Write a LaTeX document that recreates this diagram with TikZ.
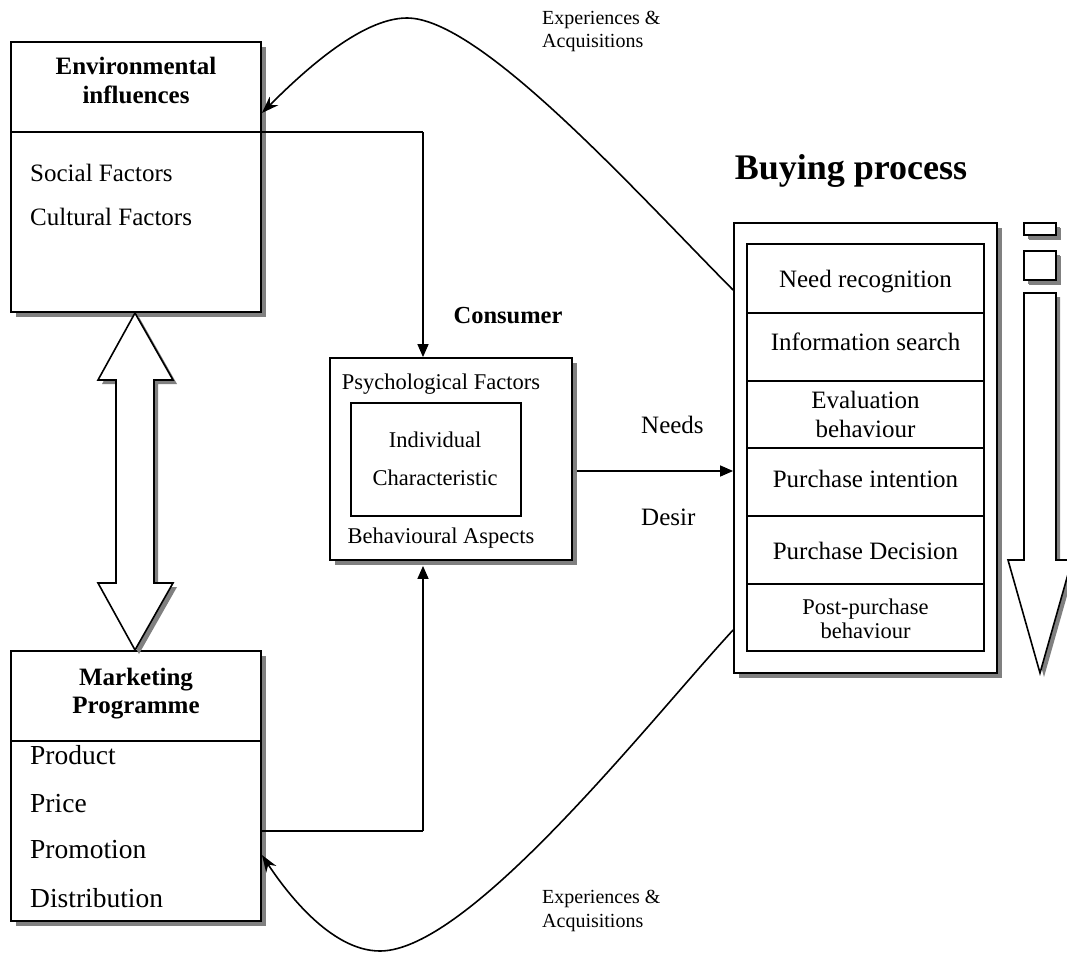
\documentclass[tikz,border=0pt]{standalone}
\usepackage{fontspec}
\setmainfont{Liberation Serif}
\usetikzlibrary{arrows.meta,shadows,calc}

\begin{document}
\begin{tikzpicture}[x=1pt,y=-1pt,
  panel/.style={draw, line width=1.8pt, fill=white, inner sep=0pt,
    drop shadow={shadow xshift=5pt, shadow yshift=-5pt, fill=black!50, opacity=1}},
  plainbox/.style={draw, line width=1.8pt, fill=white, inner sep=0pt},
  rowbox/.style={plainbox, minimum width=237pt},
  conn/.style={line width=1.4pt, -{Triangle[length=13pt,width=11pt]}},
  curvearrow/.style={line width=1.6pt, -{Stealth[length=17pt,width=12pt]}},
  label/.style={inner sep=0pt, anchor=base, font=\fontsize{25}{30}\selectfont},
  labelw/.style={label, anchor=base west},
  small/.style={font=\fontsize{22.5}{27}\selectfont},
  tiny/.style={font=\fontsize{20}{24}\selectfont},
  big/.style={font=\fontsize{27.5}{33}\selectfont},
  heading/.style={label, font=\bfseries\fontsize{25}{30}\selectfont},
  hollow/.style={draw, line width=1.6pt, fill=white, line join=miter},
  hollowshadow/.style={fill=black!50}
]
\fill[white] (0,0) rectangle (1067,955);
\useasboundingbox (0,0) rectangle (1067,955);

% ---- left column: environment and marketing panels
\node[panel, minimum width=250pt, minimum height=270pt] (env) at (136,177) {};
\draw[line width=1.8pt] (env.west |- 0,132) -- (env.east |- 0,132);
\node[heading] (envt1) at (136,75) {Environmental};
\node[heading] (envt2) at (136,103) {influences};
\node[labelw] (soc) at (30,181) {Social Factors};
\node[labelw] (cul) at (30,225) {Cultural Factors};

\node[panel, minimum width=250pt, minimum height=270pt] (mkt) at (136,786) {};
\draw[line width=1.8pt] (mkt.west |- 0,741) -- (mkt.east |- 0,741);
\node[heading] (mkt1) at (136,685) {Marketing};
\node[heading] (mkt2) at (136,713) {Programme};
\node[labelw, big] (p1) at (30,764) {Product};
\node[labelw, big] (p2) at (30,812) {Price};
\node[labelw, big] (p3) at (30,858) {Promotion};
\node[labelw, big] (p4) at (30,907) {Distribution};

% ---- two-headed block arrow between the panels
\fill[hollowshadow, shift={(4,4)}] (135,313) -- (173,380) -- (154,380) -- (154,583) -- (173,583)
  -- (135,650) -- (98,583) -- (116,583) -- (116,380) -- (98,380) -- cycle;
\draw[hollow] (135,313) -- (173,380) -- (154,380) -- (154,583) -- (173,583)
  -- (135,650) -- (98,583) -- (116,583) -- (116,380) -- (98,380) -- cycle;

% ---- consumer panel
\node[heading, font=\bfseries\fontsize{24.5}{29}\selectfont] (cons) at (508,323) {Consumer};
\node[panel, minimum width=242pt, minimum height=202pt] (consumer) at (451,459) {};
\node[plainbox, minimum width=170pt, minimum height=113pt] (indiv) at (436,459.5) {};
\node[label, small] (psy) at (441,389) {Psychological Factors};
\node[label, small] (ind1) at (435,447) {Individual};
\node[label, small] (ind2) at (435,485) {Characteristic};
\node[label, small] (beh) at (441,543) {Behavioural Aspects};

% ---- buying process
\node[label, font=\bfseries\fontsize{36}{43}\selectfont] (buyt) at (851,179) {Buying process};
\node[panel, minimum width=263pt, minimum height=450pt] (buy) at (865.5,448) {};
\node[rowbox, minimum height=69pt] (r1) at (865.5,278.5) {};
\node[rowbox, minimum height=68pt] (r2) at (865.5,347) {};
\node[rowbox, minimum height=67pt] (r3) at (865.5,414.5) {};
\node[rowbox, minimum height=68pt] (r4) at (865.5,482) {};
\node[rowbox, minimum height=68pt] (r5) at (865.5,550) {};
\node[rowbox, minimum height=67pt] (r6) at (865.5,617.5) {};
\node[label] (s1) at (865.5,287) {Need recognition};
\node[label] (s2) at (865.5,350) {Information search};
\node[label] (s3a) at (865.5,408) {Evaluation};
\node[label] (s3b) at (865.5,437) {behaviour};
\node[label] (s4) at (865.5,487) {Purchase intention};
\node[label] (s5) at (865.5,559) {Purchase Decision};
\node[label, small] (s6a) at (865.5,614) {Post-purchase};
\node[label, small] (s6b) at (865.5,638) {behaviour};

% ---- small blocks and the downward block arrow
\node[panel, minimum width=32pt, minimum height=12pt,
  drop shadow={shadow xshift=4pt, shadow yshift=-4pt, fill=black!50, opacity=1}] (b1) at (1040,229) {};
\node[panel, minimum width=32pt, minimum height=29pt,
  drop shadow={shadow xshift=4pt, shadow yshift=-4pt, fill=black!50, opacity=1}] (b2) at (1040,265.5) {};
\fill[hollowshadow, shift={(4,4)}] (1024,293) -- (1056,293) -- (1056,560) -- (1072,560)
  -- (1040,673) -- (1008,560) -- (1024,560) -- cycle;
\draw[hollow] (1024,293) -- (1056,293) -- (1056,560) -- (1072,560)
  -- (1040,673) -- (1008,560) -- (1024,560) -- cycle;

% ---- connectors
\coordinate (k1) at (423,132);
\coordinate (k2) at (423,831);
\coordinate (k3) at (0,471);
\draw[line width=1.4pt] (env.east |- k1) -- (k1);
\draw[conn] (k1) -- (k1 |- consumer.north);
\draw[line width=1.4pt] (mkt.east |- k2) -- (k2);
\draw[conn] (k2) -- ($(k2 |- consumer.south)+(0,5)$);
\draw[conn] ($(consumer.east |- k3)+(4,0)$) -- (buy.west |- k3);
\node[labelw] (needs) at (641,433) {Needs};
\node[labelw] (desir) at (641,525) {Desir};

% ---- feedback curves
\coordinate (top) at (407,18);
\coordinate (bot) at (380,951);
\draw[line width=1.6pt] (buy.west |- 0,290) .. controls (634,190) and (480,18) .. (top);
\draw[curvearrow] (top) .. controls (360,18) and (300,75) .. (env.east |- 0,113);
\draw[line width=1.6pt] (buy.west |- 0,630) .. controls (650,720) and (470,951) .. (bot);
\draw[curvearrow] (bot) .. controls (330,951) and (285,890) .. (mkt.east |- 0,855);
\node[labelw, tiny] (ea1) at (542,25) {Experiences \&};
\node[labelw, tiny] (ea2) at (542,48) {Acquisitions};
\node[labelw, tiny] (eb1) at (542,903) {Experiences \&};
\node[labelw, tiny] (eb2) at (542,927) {Acquisitions};
\end{tikzpicture}
\end{document}
